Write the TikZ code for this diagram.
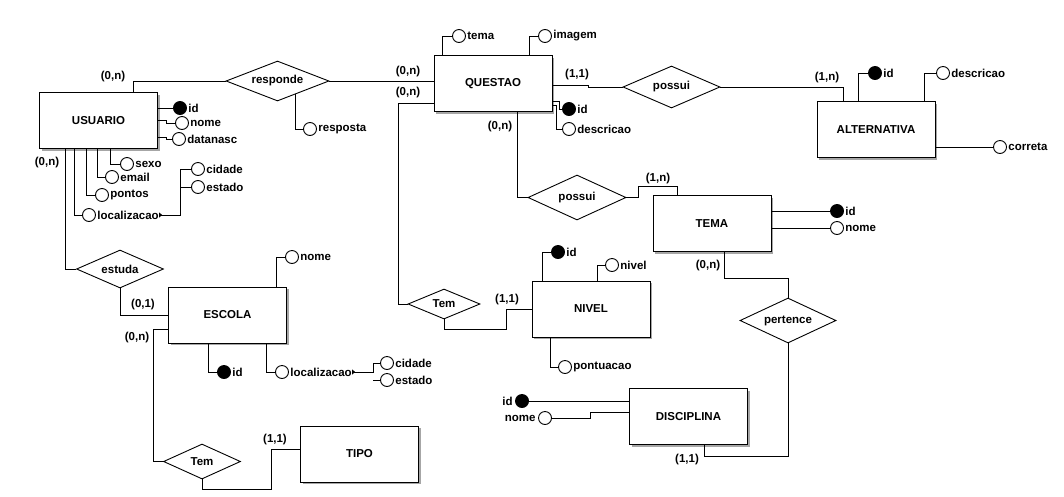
\documentclass[tikz,border=0pt]{standalone}
\usepackage{fontspec}
\setmainfont{Liberation Sans}
\usetikzlibrary{shapes.geometric,shadows,calc}

\begin{document}
\begin{tikzpicture}[x=1pt,y=-1pt,
  every node/.style={font=\bfseries\fontsize{11.5}{13}\selectfont},
  every label/.style={inner sep=1pt},
  entity/.style={draw, fill=white, line width=1pt, minimum width=118pt, minimum height=56pt,
    drop shadow={shadow xshift=2pt, shadow yshift=-2pt, fill=gray!70, opacity=1}},
  rel/.style={draw, diamond, fill=white, inner sep=0pt, aspect=2.5, line width=0.9pt},
  attr/.style={draw, circle, fill=white, minimum size=13pt, inner sep=0pt, line width=0.9pt, label distance=5.5pt},
  keyattr/.style={attr, fill=black},
  card/.style={inner sep=0pt},
  every path/.style={line width=0.9pt}]
\useasboundingbox (0,0) rectangle (1064,496);

% entities
\node[entity] (usuario) at (98.5,120.5) {USUARIO};
\node[entity] (questao) at (493,83.5) {QUESTAO};
\node[entity] (alternativa) at (876,129.5) {ALTERNATIVA};
\node[entity] (tema) at (712,223.5) {TEMA};
\node[entity] (escola) at (227.5,315) {ESCOLA};
\node[entity] (nivel) at (591,309) {NIVEL};
\node[entity] (disciplina) at (688.5,416.5) {DISCIPLINA};
\node[entity] (tipo) at (359.5,454) {TIPO};

% relationships
\node[rel, minimum width=103pt, minimum height=40pt] (responde) at (277.5,81) {responde};
\node[rel, minimum width=97pt, minimum height=42pt] (possui) at (671.5,87) {possui};
\node[rel, minimum width=98pt, minimum height=45pt] (possuitema) at (577,197.5) {possui};
\node[rel, minimum width=87pt, minimum height=38pt] (estuda) at (120,269) {estuda};
\node[rel, minimum width=72pt, minimum height=30pt] (temnivel) at (444,304) {Tem};
\node[rel, minimum width=77pt, minimum height=35pt] (temtipo) at (202,461.5) {Tem};
\node[rel, minimum width=96pt, minimum height=45pt] (pertence) at (788,320.5) {pertence};

% attributes of USUARIO
\node[keyattr, label=right:id] (uid) at (180,108) {};
\node[attr, label=right:nome] (unome) at (182,123) {};
\node[attr, label=right:datanasc] (udatanasc) at (179,139) {};
\node[attr, label=right:sexo] (usexo) at (127,164) {};
\node[attr, label=right:email] (uemail) at (112,177) {};
\node[attr, label=right:pontos] (upontos) at (102,195) {};
\node[attr, label={[name=uloct]right:localizacao}] (uloc) at (89,215) {};
\node[attr, label=right:cidade] (ucidade) at (198,169) {};
\node[attr, label=right:estado] (uestado) at (198,187) {};

% attribute of responde
\node[attr, label=right:resposta] (resposta) at (310,129) {};

% attributes of QUESTAO
\node[attr, label=right:tema] (qtema) at (459,36) {};
\node[attr, label=right:imagem] (qimagem) at (545,36) {};
\node[keyattr, label=right:id] (qid) at (569,109) {};
\node[attr, label=right:descricao] (qdesc) at (569,129) {};

% attributes of ALTERNATIVA
\node[keyattr, label=right:id] (aid) at (875,73) {};
\node[attr, label=right:descricao] (adesc) at (943,73) {};
\node[attr, label=right:correta] (acorreta) at (1000,147) {};

% attributes of TEMA
\node[keyattr, label=right:id] (tid) at (837,211) {};
\node[attr, label=right:nome] (tnome) at (837,228) {};

% attributes of ESCOLA
\node[attr, label=right:nome] (enome) at (292,257) {};
\node[keyattr, label=right:id] (eid) at (224,372) {};
\node[attr, label={[name=elocl]right:localizacao}] (eloc) at (282,372) {};
\node[attr, label=right:cidade] (ecidade) at (387,363) {};
\node[attr, label=right:estado] (eestado) at (387,380) {};

% attributes of NIVEL
\node[keyattr, label=right:id] (nid) at (558,252) {};
\node[attr, label=right:nivel] (nnivel) at (612,265) {};
\node[attr, label=right:pontuacao] (npont) at (565,367) {};

% attributes of DISCIPLINA
\node[keyattr, label={[label distance=1pt]left:id}] (did) at (522,401) {};
\node[attr, label={[label distance=1pt]left:nome}] (dnome) at (545,418) {};

% cardinalities
\node[card] (c1) at (113,77) {(0,n)};
\node[card] (c2) at (408,72) {(0,n)};
\node[card] (c3) at (408,93) {(0,n)};
\node[card] (c4) at (500,127) {(0,n)};
\node[card] (c5) at (577,75) {(1,1)};
\node[card] (c6) at (827,78) {(1,n)};
\node[card] (c7) at (658,179) {(1,n)};
\node[card] (c8) at (708,266) {(0,n)};
\node[card] (c9) at (687,460) {(1,1)};
\node[card] (c10) at (507,300) {(1,1)};
\node[card] (c11) at (47,163) {(0,n)};
\node[card] (c12) at (143,305) {(0,1)};
\node[card] (c13) at (137,338) {(0,n)};
\node[card] (c14) at (275,440) {(1,1)};

% relationship connectors
\draw (133,0 |- usuario.north) |- (responde.west);
\draw (responde.east) -- (questao.west |- responde.east);
\draw ($(responde.south)!0.35!(responde.east)$) |- (resposta);
\draw (questao.east |- 0,85) -- (588,85) |- (possui.west);
\draw (possui.east) -| (843,0 |- alternativa.north);
\draw (questao.west |- 0,103) -| (temnivel.west -| 398,0) -- (temnivel.west);
\draw (517,0 |- questao.south) |- (possuitema.west);
\draw (possuitema.east) -- (638,0 |- possuitema.east) |- (677,186) -- (677,0 |- tema.north);
\draw (724,0 |- tema.south) |- (pertence.north |- 0,278) -- (pertence.north);
\draw (pertence.south) |- (704,456) -- (704,0 |- disciplina.south);
\draw (nivel.west) -- (506,0 |- nivel.west) |- (temnivel.south |- 0,329) -- (temnivel.south);
\draw (65,0 |- usuario.south) |- (estuda.west);
\draw (estuda.south) |- (escola.west);
\draw (escola.west |- 0,329) -| (temtipo.west -| 153,0) -- (temtipo.west);
\draw (temtipo.south) |- (271,489) |- (tipo.west |- 0,449);

% attribute connectors: USUARIO
\draw (usuario.east |- uid) -- (uid);
\draw (usuario.east |- 0,120) -| (166,0 |- unome) -- (unome);
\draw (usuario.east |- 0,137) -| (166,0 |- udatanasc) -- (udatanasc);
\draw (110,0 |- usuario.south) |- (usexo);
\draw (97,0 |- usuario.south) |- (uemail);
\draw (86,0 |- usuario.south) |- (upontos);
\draw (74,0 |- usuario.south) |- (uloc);
\draw (uloct.east) -| (180,0 |- ucidade) -- (ucidade);
\draw (180,0 |- uestado) -- (uestado);
\fill ($(uloct.east)+(-1,-2.5)$) -- ++(3,2.5) -- ++(-3,2.5) -- cycle;

% attribute connectors: QUESTAO
\draw (442,0 |- questao.north) |- (qtema);
\draw (529,0 |- questao.north) |- (qimagem);
\draw (questao.east |- 0,101) -| (559,0 |- qid) -- (qid);
\draw (questao.east |- 0,105) -| (556,0 |- qdesc) -- (qdesc);

% attribute connectors: ALTERNATIVA
\draw (858,0 |- alternativa.north) |- (aid);
\draw (924,0 |- alternativa.north) |- (adesc);
\draw (alternativa.east |- acorreta) -- (acorreta);

% attribute connectors: TEMA
\draw (tema.east |- tid) -- (tid);
\draw (tema.east |- tnome) -- (tnome);

% attribute connectors: ESCOLA
\draw (276,0 |- escola.north) |- (enome);
\draw (208,0 |- escola.south) |- (eid);
\draw (266,0 |- escola.south) |- (eloc);
\draw (elocl.east) -| (373,0 |- ecidade) -- (ecidade);
\draw (373,0 |- eestado) -- (eestado);
\fill ($(elocl.east)+(-1,-2.5)$) -- ++(3,2.5) -- ++(-3,2.5) -- cycle;

% attribute connectors: NIVEL
\draw (542,0 |- nivel.north) |- (nid);
\draw (597,0 |- nivel.north) |- (nnivel);
\draw (550,0 |- nivel.south) |- (npont);

% attribute connectors: DISCIPLINA
\draw (did) -- (disciplina.west |- did);
\draw (dnome) -- (590,0 |- dnome) |- (disciplina.west |- 0,412);
\end{tikzpicture}
\end{document}
